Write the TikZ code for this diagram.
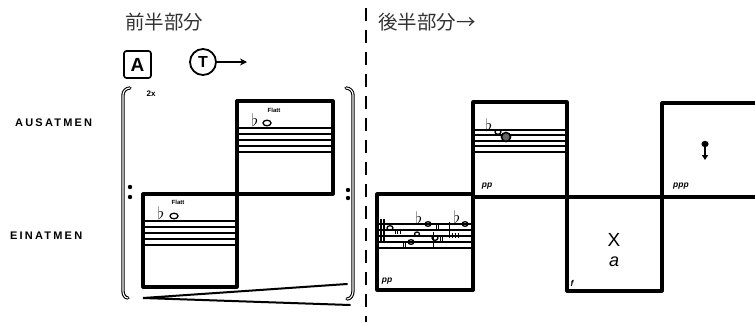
\documentclass[tikz,border=0pt]{standalone}
\usepackage{fontspec}
\setmainfont{Liberation Sans}
\newfontfamily\cjk{Noto Sans CJK JP}
\newfontfamily\hand[LetterSpace=20]{Liberation Sans Bold}
\usetikzlibrary{arrows.meta}
\begin{document}
\begin{tikzpicture}[x=1pt,y=-1pt,
  box/.style={line width=3.2pt,line join=round,line cap=round},
  staffline/.style={line width=1.2pt},
  bracketline/.style={double,double distance=1.1pt,line width=1.1pt,line cap=round},
  lbl/.style={inner sep=0pt,font=\hand\fontsize{11}{11}\selectfont,anchor=west},
  title/.style={inner sep=0pt,font=\cjk\fontsize{19.5}{19.5}\selectfont,text=black!80},
  tiny/.style={inner sep=0pt,font=\bfseries\fontsize{6}{6}\selectfont},
  dyn/.style={inner sep=0pt,font=\bfseries\itshape\fontsize{8.5}{8.5}\selectfont},
  flatsign/.style={inner sep=0pt,font=\fontsize{16}{16}\selectfont},
  whole/.style={line width=1.3pt},
  thinmark/.style={line width=1pt}]
\useasboundingbox (0,0) rectangle (755,322);

% titles
\node[title,anchor=west] (t1) at (125,22) {前半部分};
\node[title,anchor=west] (t2) at (378,22) {後半部分→};

% dashed divider
\draw[line width=1.7pt,dash pattern=on 13pt off 9pt] (366,8) -- (366,322);

% A box and T circle
\node[draw,line width=1.7pt,rounded corners=2.5pt,minimum width=27pt,minimum height=27pt,inner sep=0pt,font=\bfseries\fontsize{19}{19}\selectfont] (A) at (137.5,64.5) {A};
\node[draw,circle,line width=1.8pt,minimum size=26pt,inner sep=0pt,font=\bfseries\fontsize{16}{16}\selectfont] (T) at (203,62) {T};
\coordinate (tend) at (247,62);
\draw[line width=1.8pt,-{Stealth[length=7pt,width=7pt]}] (T) -- (tend);
\node[tiny,font=\bfseries\fontsize{8}{8}\selectfont] (rep) at (151,94) {2x};

% labels
\node[lbl] (aus) at (15,123) {AUSATMEN};
\node[lbl] (ein) at (10,236) {EINATMEN};

% repeat brackets
\draw[bracketline] (130,88) to[out=180,in=90] (123,95) -- (123,291) to[out=-90,in=180] (128,298);
\draw[bracketline] (346,88) to[out=0,in=90] (353,95) -- (353,291) to[out=-90,in=0] (347,299);
\fill (130,187) circle (2.2) (130,197) circle (2.2) (348,190) circle (2.2) (348,198) circle (2.2);

% hairpin
\coordinate (hp) at (143,298);
\coordinate (hu) at (347,284);
\coordinate (hl) at (350,305);
\draw[line width=2pt,line cap=round] (hu) -- (hp) -- (hl);

% first half boxes
\draw[box] (143,194) rectangle (237,287);
\draw[box] (237,101) rectangle (333,194);
\foreach \y in {221,227,233,239,245} \draw[staffline] (143,\y) -- (237,\y);
\foreach \y in {128,134,140,146,152} \draw[staffline] (237,\y) -- (333,\y);
\node[tiny] (fl1) at (178,202) {Flatt};
\node[flatsign] (b1) at (161,213) {$\flat$};
\draw[whole] (174,216) ellipse (4 and 2.8);
\node[tiny] (fl2) at (274,110) {Flatt};
\node[flatsign] (b2) at (255,120) {$\flat$};
\draw[whole] (267,123) ellipse (4 and 2.8);

% second half boxes
\draw[box] (377,194) rectangle (473,290);
\draw[box] (473,290) -- (473,102) -- (567,102) -- (567,291) -- (662,291) -- (662,103) -- (755,103);
\draw[box] (473,197) -- (755,197);
\foreach \y in {224,230,236,242,248} \draw[staffline] (377,\y) -- (473,\y);
\foreach \y in {130,135,141,146,152} \draw[staffline] (473,\y) -- (567,\y);

% box 1 notes
\draw[line width=1.5pt] (381,219) -- (381,241) (384,219) -- (384,241);
\draw[whole] (390,228) ellipse (3 and 2.3);
\draw[thinmark] (395,229) -- (395,234) (397.5,229) -- (397.5,234) (400,229) -- (400,234);
\node[flatsign] (b3) at (419,218) {$\flat$};
\draw[whole] (428,224) ellipse (3 and 2.3);
\draw[whole] (417,234) ellipse (2.5 and 2);
\draw[whole] (411,242) ellipse (3 and 2.3);
\draw[thinmark] (403,242) -- (403,247) (405.5,242) -- (405.5,247);
\draw[thinmark] (436,224) -- (436,229) (438.5,224) -- (438.5,229);
\draw[whole] (435,238) ellipse (3 and 2.3);
\draw[thinmark] (433,232) -- (433,247) (440,236) -- (440,241) (442.5,236) -- (442.5,241);
\node[flatsign] (b4) at (457,217) {$\flat$};
\draw[whole] (465,224) ellipse (3 and 2.3);
\draw[thinmark] (449,222) -- (449,238) (452,233) -- (452,238) (455,233) -- (455,238) (458,233) -- (458,238);
\node[dyn] (pp1) at (387,281) {pp};

% box 2 notes
\node[flatsign] (b5) at (489,125) {$\flat$};
\draw[whole] (498,132) ellipse (3 and 2.3);
\draw[line width=1.6pt,fill=black!60] (506,137) circle (4.5);
\node[dyn] (pp2) at (487,186) {pp};

% box 3
\node[inner sep=0pt,font=\fontsize{19}{19}\selectfont] (x) at (614,240) {X};
\node[inner sep=0pt,font=\itshape\fontsize{18}{18}\selectfont] (a) at (614,262) {a};
\node[dyn] (sf) at (572,283) {f};

% box 4
\node[dyn] (ppp) at (681,186) {ppp};
\fill (705,144) ellipse (3.6 and 3.2);
\draw[line width=1.6pt,-{Triangle[length=5pt,width=6pt]}] (705,146) -- (705,160);
\end{tikzpicture}
\end{document}
